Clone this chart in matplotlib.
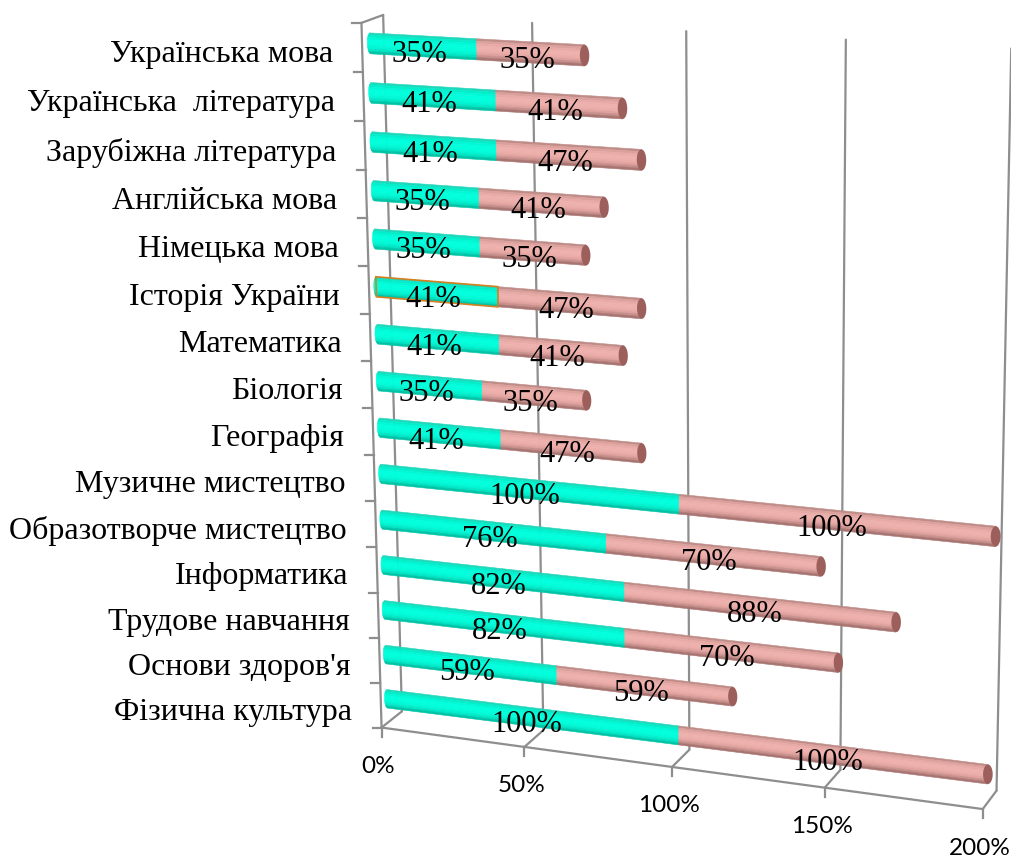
import numpy as np
import matplotlib
matplotlib.use("Agg")
import matplotlib.pyplot as plt
from matplotlib.collections import PolyCollection

categories = ["Українська мова", "Українська  література", "Зарубіжна література",
              "Англійська мова", "Німецька мова", "Історія України", "Математика",
              "Біологія", "Географія", "Музичне мистецтво", "Образотворче мистецтво",
              "Інформатика", "Трудове навчання", "Основи здоров'я", "Фізична культура"]
series_a = [35, 41, 41, 35, 35, 41, 41, 35, 41, 100, 76, 82, 82, 59, 100]
series_b = [35, 41, 47, 41, 35, 47, 41, 35, 47, 100, 70, 88, 70, 59, 100]
value_ticks = [0, 50, 100, 150, 200]

# where the tilted plot plane lands on the image
bar_plane = [(0, 0, 370, 43), (35, 0, 474, 50), (70, 0, 587, 55),
             (0, 5, 375, 286), (41, 5, 497, 298), (88, 5, 644, 309),
             (0, 9, 382, 475), (100, 9, 677, 502), (200, 9, 994, 536),
             (0, 14, 387, 698), (100, 14, 678, 736), (200, 14, 989, 775)]
# value, row, depth (0 front, 1 back) for the box round the plot
box_frame = [(0, -.5, 0, 361, 23), (0, 14.5, 0, 382, 728), (0, -.5, 1, 383, 16),
             (0, 14.5, 1, 402, 710), (200, 14.5, 0, 983, 808), (200, 14.5, 1, 996, 792),
             (200, -.5, 1, 1010, 50), (100, -.5, 1, 687, 30), (150, -.5, 1, 847, 38),
             (50, -.5, 1, 532, 23), (50, 14.5, 0, 524, 748), (100, 14.5, 0, 672, 767),
             (150, 14.5, 0, 825, 787), (50, 14.5, 1, 543, 730), (100, 14.5, 1, 689, 750),
             (150, 14.5, 1, 841, 770)]


def fit_projection(table):
    table = np.array(table, dtype=float)
    src = table[:, :-2] / [100, 10, 1][:table.shape[1] - 2]
    rows = []
    for s, (px, py) in zip(src, table[:, -2:] / 100):
        h = np.append(s, 1)
        rows.append(np.concatenate([h, h * 0, -px * h]))
        rows.append(np.concatenate([h * 0, h, -py * h]))
    m = np.linalg.svd(np.array(rows))[2][-1].reshape(3, -1)

    def project(*coords):
        c = [np.asarray(a, dtype=float) / d for a, d in zip(coords, [100, 10, 1])]
        c = np.broadcast_arrays(*c, 1.0)
        w = sum(m[2, i] * c[i] for i in range(len(c)))
        x = sum(m[0, i] * c[i] for i in range(len(c))) / w * 100
        y = sum(m[1, i] * c[i] for i in range(len(c))) / w * 100
        return x, y
    return project


bar_xy = fit_projection(bar_plane)
box_xy = fit_projection(box_frame)

fig = plt.figure(figsize=(10.11, 8.57), dpi=100)
ax = fig.add_axes([0, 0, 1, 1])
ax.set_xlim(0, 1011)
ax.set_ylim(857, 0)
ax.axis("off")

grey = "#8e8e8e"


def box_line(a, b, lw=1.6, color=grey):
    xa, ya = box_xy(*a)
    xb, yb = box_xy(*b)
    ax.plot([xa, xb], [ya, yb], color=color, lw=lw, zorder=1, solid_capstyle="round")


# walls and floor
box_line((0, -.5, 0), (0, 14.5, 0))
box_line((0, -.5, 0), (0, -.5, 1))
box_line((0, 14.5, 0), (200, 14.5, 0))
for v in value_ticks:
    box_line((v, -.5, 1), (v, 14.5, 1))
    box_line((v, 14.5, 0), (v, 14.5, 1))
    x, y = box_xy(v, 14.5, 0)
    ax.plot([x, x], [y, y + 9], color=grey, lw=1.6, zorder=1)
    ax.text(x - 3, y + 39, f"{v}%", family="Lato", fontsize=17.5, ha="center",
            va="center", color="black")
for r in np.arange(-.5, 15):
    x, y = box_xy(0, r, 0)
    ax.plot([x - 9, x], [y, y], color=grey, lw=1.6, zorder=1)

teal = ["#1fd8bb", "#00eeca", "#00f8d6", "#00ffdc", "#00ffdc", "#00fcd9", "#00f4d1", "#00e4c3", "#00c4a6"]
pink = ["#bf8c88", "#dca19d", "#e8aaa6", "#eeb0ac", "#eeb0ac", "#ebaca8", "#e0a29e", "#c88f8b", "#a87572"]
radius = 0.21


def cylinder(row, v0, v1, colors, round_start=False):
    n = len(colors)
    edges = np.linspace(-1, 1, n + 1)
    polys = []
    for lo, hi in zip(edges[:-1], edges[1:]):
        rows = np.array([lo, lo, hi, hi]) * radius + row
        bulge = 0.8 * np.sqrt(1 - np.array([lo, hi]) ** 2) if round_start else np.zeros(2)
        vals = [v0 - bulge[0], v1, v1, v0 - bulge[1]]
        x, y = bar_xy(vals, rows)
        polys.append(np.column_stack([x, y]))
    ax.add_collection(PolyCollection(polys, facecolors=colors, edgecolors=colors,
                                     linewidths=0.4, zorder=3))


for row, (a, b) in enumerate(zip(series_a, series_b)):
    end = a + b
    cylinder(row, a, end, pink)
    cylinder(row, 0, a, teal, round_start=True)

    # end cap of the pink part
    t = np.linspace(0, 2 * np.pi, 40)
    cx, cy = bar_xy(end + 1.5 * np.cos(t), row + radius * np.sin(t))
    ax.fill(cx, cy, color="#9c5f5c", lw=0, zorder=4)

    # category text sits off the front axis
    x, y = box_xy(0, row, 0)
    ax.text(x - 29, y + 7, categories[row], family="Liberation Serif", fontsize=23,
            ha="right", va="center", color="black", zorder=5)

    for val, mid in ((a, a / 2), (b, a + b / 2)):
        x, y = bar_xy(mid, row)
        ax.text(x - 3, y + 8, f"{val}%", family="Liberation Serif", fontsize=22,
                ha="center", va="center", color="black", zorder=6)

# the selected segment in the original
sel = categories.index("Історія України")
vals = [0, series_a[sel], series_a[sel], 0, 0]
rows = np.array([-1, -1, 1, 1, -1]) * radius + sel
x, y = bar_xy(vals, rows)
ax.plot(x, y, color="#d4801e", lw=1.2, zorder=4)

plt.savefig("out.png", dpi=100)
